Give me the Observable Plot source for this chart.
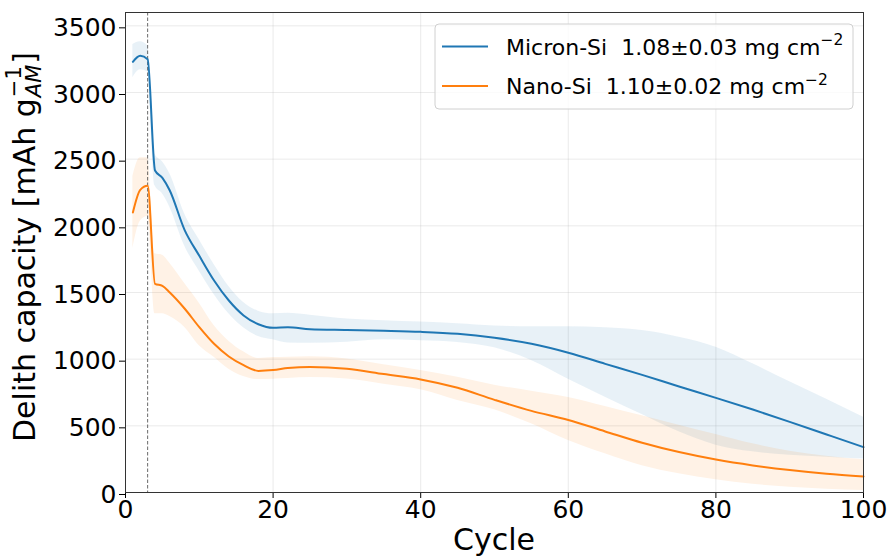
<!DOCTYPE html>
<html><head><meta charset="utf-8">
<script src="https://cdn.jsdelivr.net/npm/d3@7"></script>
<script src="https://cdn.jsdelivr.net/npm/@observablehq/plot@0.6"></script>
<style>body{margin:0;background:#fff} svg{font-family:"DejaVu Sans",sans-serif}</style>
</head><body><div id="chart"></div>
<script>
const cycles     = [1,    2,    3,    4,    5,    6,    8,    10,   12,   14,   16,   18,   20,   22,   25,   30,   35,   40,   45,   50,   55,   60,   65,   70,   75,   80,   85,  90,  95,  100];
const micronMean = [3230, 3275, 3250, 2415, 2360, 2265, 1970, 1775, 1590, 1440, 1328, 1262, 1235, 1240, 1225, 1219, 1213, 1205, 1190, 1160, 1115, 1048, 965,  882,  795,  710,  622, 530, 435, 340];
const micronLow  = [3110, 3170, 3155, 2300, 2240, 2140, 1850, 1660, 1485, 1340, 1235, 1170, 1145, 1122, 1120, 1127, 1145, 1138, 1125, 1085, 990,  850,  715,  585,  455,  355,  305, 280, 265, 252];
const micronHigh = [3360, 3380, 3350, 2535, 2480, 2390, 2090, 1895, 1710, 1545, 1425, 1360, 1340, 1344, 1330, 1302, 1288, 1278, 1265, 1248, 1243, 1243, 1235, 1215, 1165, 1090, 965, 830, 700, 564];
const nanoMean   = [2100, 2270, 2300, 1565, 1550, 1500, 1380, 1240, 1115, 1020, 955,  912,  918,  933,  942,  928,  888,  848,  785,  695,  612,  544,  458,  373,  303,  247,  203, 168, 140, 120];
const nanoLow    = [1830, 2035, 2070, 1340, 1340, 1320, 1240, 1100, 1014, 925,  870,  847,  850,  855,  862,  852,  812,  770,  690,  620,  515,  390,  290,  200,  140,  95,   62,  40,  25,  15];
const nanoHigh   = [2370, 2510, 2510, 1790, 1780, 1720, 1570, 1420, 1252, 1135, 1055, 1005, 1012, 1015, 1019, 1002, 958,  915,  865,  805,  760,  713,  645,  575,  505,  435,  365, 310, 272, 245];

const seriesNames = ["Micron-Si", "Nano-Si"];
const loadings = ["1.08±0.03", "1.10±0.02"];
const colors = ["#1f77b4", "#ff7f0e"];
const xTicks = [0, 20, 40, 60, 80, 100];
const yTicks = [0, 500, 1000, 1500, 2000, 2500, 3000, 3500];
const formationCycle = [3];

const rows = [];
cycles.forEach((c, i) => {
  rows.push({cycle: c, series: seriesNames[0], mean: micronMean[i], low: micronLow[i], high: micronHigh[i]});
  rows.push({cycle: c, series: seriesNames[1], mean: nanoMean[i], low: nanoLow[i], high: nanoHigh[i]});
});

const plot = Plot.plot({
  width: 890, height: 557,
  marginLeft: 125, marginRight: 27, marginTop: 12, marginBottom: 65,
  x: {domain: [0, 100], ticks: xTicks},
  y: {domain: [0, 3600], ticks: yTicks},
  color: {domain: seriesNames, range: colors},
  style: {fontFamily: "DejaVu Sans", fontSize: "25px", background: "white", overflow: "visible", color: "black"},
  marks: [
    Plot.gridX(xTicks, {stroke: "#b0b0b0", strokeOpacity: 0.25, strokeWidth: 1}),
    Plot.gridY(yTicks, {stroke: "#b0b0b0", strokeOpacity: 0.25, strokeWidth: 1}),
    Plot.areaY(rows, {x: "cycle", y1: "low", y2: "high", fill: "series", fillOpacity: 0.1, curve: "monotone-x"}),
    Plot.ruleX(formationCycle, {stroke: "#444", strokeWidth: 0.8, strokeDasharray: "3.5,2"}),
    Plot.lineY(rows, {x: "cycle", y: "mean", stroke: "series", strokeWidth: 2, curve: "monotone-x"}),
    Plot.axisX({ticks: xTicks, tickSize: 6, tickPadding: 2, fontSize: 25, label: null}),
    Plot.axisY({ticks: yTicks, tickSize: 6, tickPadding: 3, fontSize: 25, label: null, dy: 2, tickFormat: d => String(d)}),
    Plot.frame({stroke: "#333", strokeWidth: 1})
  ]
});
document.getElementById("chart").appendChild(plot);

const svg = d3.select(plot);
function measure(str, size, italic) {
  const t = svg.append("text").attr("font-size", size).attr("font-style", italic ? "italic" : null).text(str);
  const w = t.node().getComputedTextLength();
  t.remove();
  return w;
}

// x label
svg.append("text").attr("x", 494).attr("y", 550).attr("text-anchor", "middle")
  .attr("font-size", 30).attr("fill", "black").text("Cycle");

// y label with stacked super/subscript
const yl = svg.append("g").attr("transform", "translate(35,247) rotate(-90)");
const yt = yl.append("text").attr("text-anchor", "middle").attr("font-size", 30).attr("fill", "black");
yt.append("tspan").text("Delith capacity [mAh g");
yt.append("tspan").attr("font-size", 21).attr("dy", -14).attr("dx", 1).text("\u22121");
const supW = measure("\u22121", 21, false);
yt.append("tspan").attr("font-size", 21).attr("font-style", "italic").attr("dy", 20).attr("dx", -supW).text("AM");
yt.append("tspan").attr("dy", -6).attr("dx", 1).text("]");

// legend
const lg = svg.append("g").attr("text-anchor", "start");
lg.append("rect").attr("x", 435).attr("y", 24).attr("width", 418).attr("height", 85).attr("rx", 4)
  .attr("fill", "white").attr("fill-opacity", 0.8).attr("stroke", "#d0d0d0").attr("stroke-width", 1);
seriesNames.forEach((name, i) => {
  const cy = 46.5 + i * 39.5;
  lg.append("line").attr("x1", 442).attr("x2", 488).attr("y1", cy).attr("y2", cy)
    .attr("stroke", colors[i]).attr("stroke-width", 2);
  const t = lg.append("text").attr("x", 506).attr("y", cy + 8).attr("font-size", 22).attr("fill", "black")
    .attr("text-anchor", "start");
  t.append("tspan").text(name + "\u00a0 " + loadings[i] + " mg cm");
  t.append("tspan").attr("font-size", 15.5).attr("dy", -9.5).text("\u22122");
});
</script></body></html>
